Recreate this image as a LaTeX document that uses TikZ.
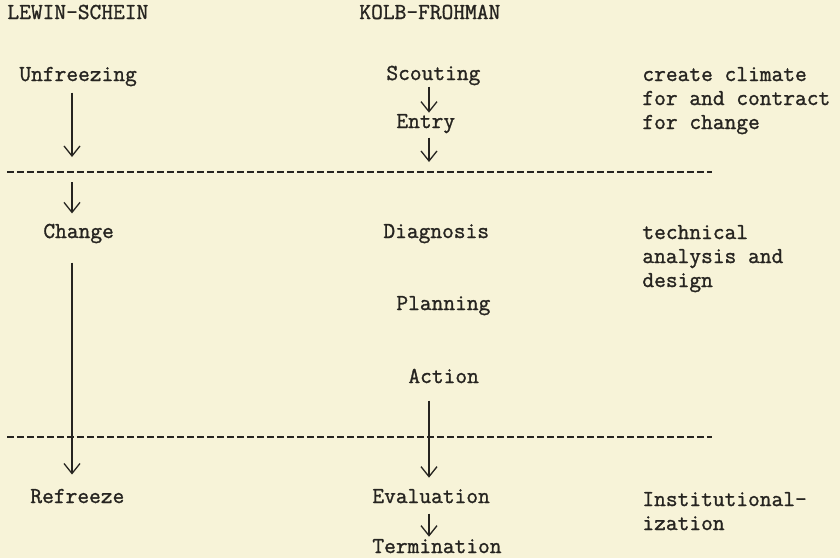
\documentclass[tikz,border=0pt]{standalone}
\usepackage{fontspec}
\usetikzlibrary{arrows.meta}
\newfontfamily\typew{Latin Modern Mono}[RawFeature={embolden=1.2}]
\definecolor{paper}{RGB}{247,243,216}
\definecolor{ink}{RGB}{38,36,32}
\tikzset{%
    txt/.style={anchor=base west, inner sep=0pt, text=ink, align=left,
        font=\typew\fontsize{11.4}{12}\selectfont},
    sep/.style={ink, line width=0.6pt, dash pattern=on 3.5pt off 1.5pt},
    seca/.style={ink, line width=0.65pt, -{Straight Barb[length=5pt,width=8pt]}},
}

\begin{document}
\begin{tikzpicture}[x=0.5pt, y=-0.5pt]
    \fill[paper] (0,0) rectangle (840,558);
    \coordinate (lcol) at (72,0);
    \coordinate (kcol) at (429,0);
    \coordinate (l1w) at (7,172);
    \coordinate (l1e) at (712,172);
    \coordinate (l2w) at (7,437);
    \coordinate (l2e) at (712,437);
    \draw node[txt] (lewin) at (7,19) {LEWIN-SCHEIN};
    \draw node[txt] (kolb) at (359,19) {KOLB-FROHMAN};
    \draw node[txt] (unfr) at (19,81) {Unfreezing};
    \draw node[txt] (scout) at (386,80) {Scouting};
    \draw node[txt] (entry) at (396,128) {Entry};
    % multi-line nodes sit on their last line
    \draw node[txt] (clim) at (642,129) {create climate\\for and contract\\for change};
    \draw node[txt] (chg) at (43,238) {Change};
    \draw node[txt] (diag) at (383,238) {Diagnosis};
    \draw node[txt] (tech) at (642,287) {technical\\analysis and\\design};
    \draw node[txt] (plan) at (396,310) {Planning};
    \draw node[txt] (act) at (408,383) {Action};
    \draw node[txt] (refr) at (30,503) {Refreeze};
    \draw node[txt] (eval) at (372,503) {Evaluation};
    \draw node[txt] (term) at (372,553) {Termination};
    \draw node[txt] (inst) at (642,530) {Institutional-\\ization};
    % phase borders
    \draw [sep] (l1w) -- (l1e);
    \draw [sep] (l2w) -- (l2e);
    % Lewin-Schein
    \draw [seca, shorten <=3pt, shorten >=7.5pt] (unfr.south -| lcol) -- (l1w -| lcol);
    \draw [seca, shorten <=5pt, shorten >=5pt] (l1w -| lcol) -- (chg.north -| lcol);
    \draw [seca, shorten <=9.5pt, shorten >=7pt] (chg.south -| lcol) -- (refr.north -| lcol);
    % Kolb-Frohman
    \draw [seca, shorten <=0.5pt, shorten >=0.5pt] (scout.south -| kcol) -- (entry.north -| kcol);
    \draw [seca, shorten <=2pt, shorten >=5pt] (entry.south -| kcol) -- (l1w -| kcol);
    \draw [seca, shorten <=8.5pt, shorten >=5.5pt] (act.south -| kcol) -- (eval.north -| kcol);
    \draw [seca, shorten <=5pt, shorten >=1pt] (eval.south -| kcol) -- (term.north -| kcol);
\end{tikzpicture}
\end{document}
